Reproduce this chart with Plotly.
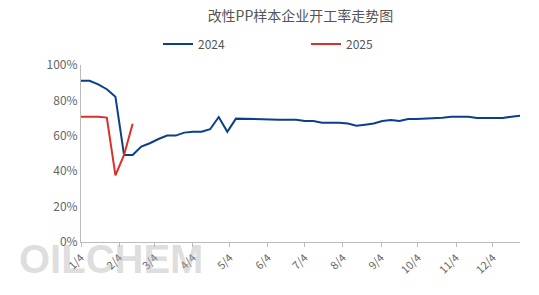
import plotly.graph_objects as go
import pandas as pd

# weekly dates (2024 Thursdays)
dates = pd.date_range("2024-01-04", periods=52, freq="7D").strftime("%Y-%m-%d").tolist()

v2024 = [91.1, 91.1, 89.1, 86.3, 82.1, 49.2, 49.2, 53.9, 55.8, 58.2,
         60.1, 60.1, 61.8, 62.3, 62.3, 63.7, 70.6, 62.3, 69.7, 69.5,
         69.3, 69.1, 69.1, 69.1, 69.1, 69.0, 68.4, 68.4, 67.4, 67.4,
         67.4, 66.9, 65.7, 66.3, 67.0, 68.4, 68.9, 68.4, 69.5, 69.5,
         69.7, 70.1, 70.2, 70.8, 70.8, 70.8, 70.1, 70.1, 70.1, 70.1,
         70.8, 71.4]
v2025 = [70.8, 70.8, 70.8, 70.3, 37.6, 49.2, 66.8]

tick_dates = [f"2024-{m:02d}-04" for m in range(1, 13)]
tick_labels = [f"{m}/4" for m in range(1, 13)]
y_ticks = [0, 20, 40, 60, 80, 100]

FONT = "Noto Sans CJK SC, Open Sans, sans-serif"

fig = go.Figure()
fig.add_trace(go.Scatter(x=dates, y=v2024, mode="lines", name="2024",
                         line=dict(color="#0b3f8d", width=2)))
fig.add_trace(go.Scatter(x=dates[:len(v2025)], y=v2025, mode="lines", name="2025",
                         line=dict(color="#d9302a", width=2)))

fig.update_layout(
    width=539, height=295,
    margin=dict(l=81, r=19, t=65, b=53, autoexpand=False),
    paper_bgcolor="white", plot_bgcolor="white",
    font=dict(family=FONT, color="#666666", size=12),
    title=dict(text="改性PP样本企业开工率走势图", x=0.5, xanchor="center",
               xref="paper", y=0.963, yanchor="top", yref="container",
               font=dict(size=14, color="#555555", family=FONT)),
    showlegend=True,
    legend=dict(orientation="h", x=158 / 539, xanchor="left", xref="container",
                y=1 - 44 / 295, yanchor="middle", yref="container",
                entrywidth=103, entrywidthmode="pixels",
                font=dict(size=12, color="#555555"),
                bgcolor="rgba(0,0,0,0)"),
    hovermode=False,
)

fig.update_xaxes(
    type="date", range=["2024-01-04", "2024-12-26"],
    tickmode="array", tickvals=tick_dates, ticktext=tick_labels,
    tickangle=-45, tickfont=dict(size=11, color="#666666"),
    showline=True, linecolor="#bbbbbb", linewidth=1,
    ticks="outside", ticklen=4, tickcolor="#bbbbbb",
    showgrid=False, zeroline=False, automargin=False,
)
fig.update_yaxes(
    range=[0, 100], tickmode="array", tickvals=y_ticks,
    ticktext=[f"{v}%" for v in y_ticks],
    tickfont=dict(size=12, color="#666666"),
    showline=True, linecolor="#bbbbbb", linewidth=1,
    ticks="", showgrid=False, zeroline=False, automargin=False,
)

# watermark
fig.add_annotation(text="<b>OILCHEM</b>", xref="paper", yref="paper",
                   x=-0.145, y=-0.095, xanchor="left", yanchor="middle",
                   showarrow=False,
                   font=dict(size=40, color="rgba(175,175,175,0.42)",
                             family="Liberation Sans, Arial, sans-serif"))

fig.write_html("out.html")
